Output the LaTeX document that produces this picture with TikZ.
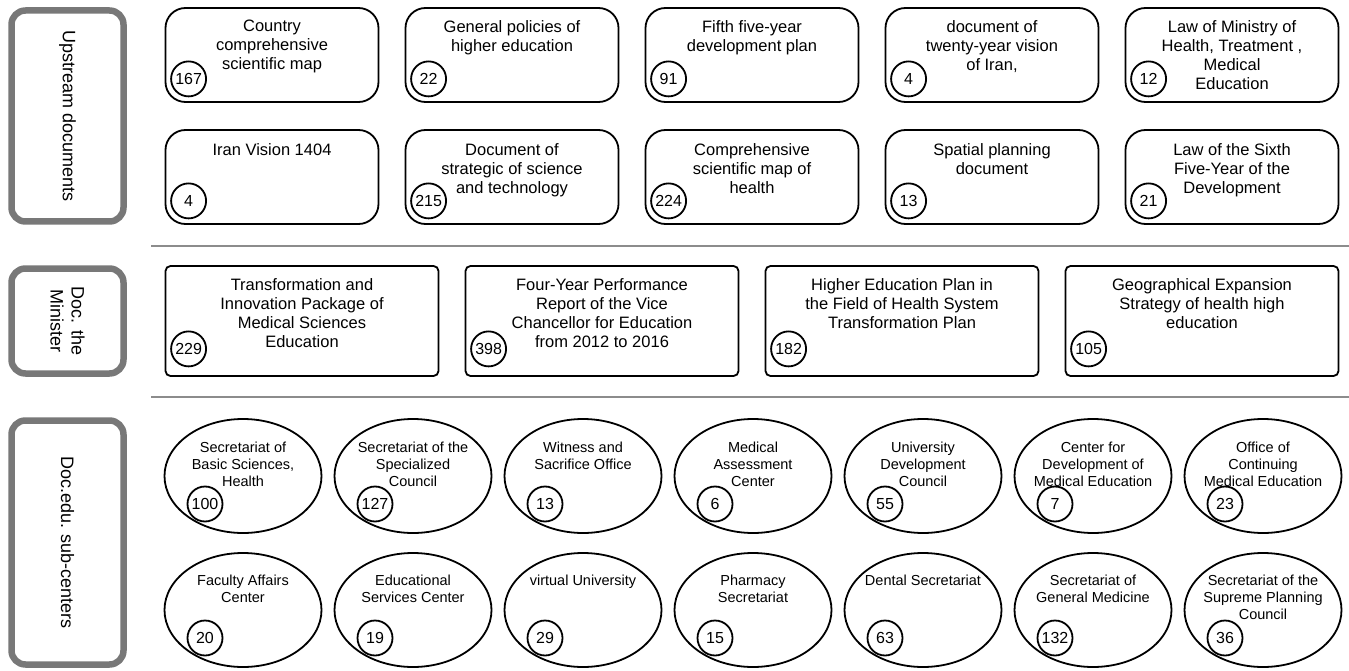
\documentclass[tikz,border=0pt]{standalone}
\usepackage{fontspec}
\setmainfont{Liberation Sans}
\usetikzlibrary{positioning,shapes.geometric}

\begin{document}
\begin{tikzpicture}[x=1pt,y=-1pt,
    grouplabel/.style={draw=black!53,line width=6.5pt,rounded corners=14pt,rotate=-90,align=center,font=\fontsize{18}{21}\selectfont},
    upbox/.style={draw,line width=1.8pt,rounded corners=20pt,minimum width=213pt,minimum height=94pt},
    minbox/.style={draw,line width=1.8pt,rounded corners=5pt,minimum width=273pt,minimum height=110pt},
    subell/.style={draw,ellipse,line width=1.8pt,minimum width=157pt,minimum height=114pt,inner sep=0pt},
    boxtext/.style={anchor=north,align=center,inner sep=0pt,font=\fontsize{16.5}{19}\selectfont},
    elltext/.style={anchor=north,align=center,inner sep=0pt,font=\fontsize{14.5}{17}\selectfont},
    num/.style={draw,circle,line width=1.8pt,minimum size=35pt,inner sep=0pt,font=\fontsize{16}{16}\selectfont},
    sepline/.style={draw=black!45,line width=2.5pt}]
    \useasboundingbox (0,0) rectangle (1349,671);

    % Group labels
    \node[grouplabel,minimum width=211pt,minimum height=112pt] (gup) at (67.5,116) {Upstream documents};
    \node[grouplabel,minimum width=105pt,minimum height=112pt] (gmin) at (67.5,321) {Doc. the\\Minister};
    \node[grouplabel,minimum width=244pt,minimum height=112pt] (gsub) at (67.5,542.5) {Doc.edu. sub-centers};

    % Separators
    \coordinate (s1a) at (151,246);
    \coordinate (s1b) at (1349,246);
    \coordinate (s2a) at (151,397);
    \coordinate (s2b) at (1349,397);
    \draw[sepline] (s1a) -- (s1b);
    \draw[sepline] (s2a) -- (s2b);

    % Upstream documents, first row
    \node[upbox] (u1) at (272,55) {};
    \node[boxtext] (u1t) at ([yshift=-13pt]u1.north) {Country\\comprehensive\\scientific map};
    \node[num] (u1n) at ([xshift=24pt,yshift=24pt]u1.south west) {167};
    \node[upbox] (u2) at (512,55) {};
    \node[boxtext] (u2t) at ([yshift=-13pt]u2.north) {General policies of\\higher education};
    \node[num] (u2n) at ([xshift=24pt,yshift=24pt]u2.south west) {22};
    \node[upbox] (u3) at (752,55) {};
    \node[boxtext] (u3t) at ([yshift=-13pt]u3.north) {Fifth five-year\\development plan};
    \node[num] (u3n) at ([xshift=24pt,yshift=24pt]u3.south west) {91};
    \node[upbox] (u4) at (992,55) {};
    \node[boxtext] (u4t) at ([yshift=-13pt]u4.north) {document of\\twenty-year vision\\of Iran,};
    \node[num] (u4n) at ([xshift=24pt,yshift=24pt]u4.south west) {4};
    \node[upbox] (u5) at (1232,55) {};
    \node[boxtext] (u5t) at ([yshift=-13pt]u5.north) {Law of Ministry of\\Health, Treatment ,\\Medical\\Education};
    \node[num] (u5n) at ([xshift=24pt,yshift=24pt]u5.south west) {12};

    % Upstream documents, second row
    \node[upbox] (u6) at (272,177) {};
    \node[boxtext] (u6t) at ([yshift=-14pt]u6.north) {Iran Vision 1404};
    \node[num] (u6n) at ([xshift=24pt,yshift=24pt]u6.south west) {4};
    \node[upbox] (u7) at (512,177) {};
    \node[boxtext] (u7t) at ([yshift=-14pt]u7.north) {Document of\\strategic of science\\and technology};
    \node[num] (u7n) at ([xshift=24pt,yshift=24pt]u7.south west) {215};
    \node[upbox] (u8) at (752,177) {};
    \node[boxtext] (u8t) at ([yshift=-14pt]u8.north) {Comprehensive\\scientific map of\\health};
    \node[num] (u8n) at ([xshift=24pt,yshift=24pt]u8.south west) {224};
    \node[upbox] (u9) at (992,177) {};
    \node[boxtext] (u9t) at ([yshift=-14pt]u9.north) {Spatial planning\\document};
    \node[num] (u9n) at ([xshift=24pt,yshift=24pt]u9.south west) {13};
    \node[upbox] (u10) at (1232,177) {};
    \node[boxtext] (u10t) at ([yshift=-14pt]u10.north) {Law of the Sixth\\Five-Year of the\\Development};
    \node[num] (u10n) at ([xshift=24pt,yshift=24pt]u10.south west) {21};

    % Documents of the minister
    \node[minbox] (m1) at (302,321) {};
    \node[boxtext] (m1t) at ([yshift=-13pt]m1.north) {Transformation and\\Innovation Package of\\Medical Sciences\\Education};
    \node[num] (m1n) at ([xshift=24pt,yshift=28pt]m1.south west) {229};
    \node[minbox] (m2) at (602,321) {};
    \node[boxtext] (m2t) at ([yshift=-13pt]m2.north) {Four-Year Performance\\Report of the Vice\\Chancellor for Education\\from 2012 to 2016};
    \node[num] (m2n) at ([xshift=24pt,yshift=28pt]m2.south west) {398};
    \node[minbox] (m3) at (902,321) {};
    \node[boxtext] (m3t) at ([yshift=-13pt]m3.north) {Higher Education Plan in\\the Field of Health System\\Transformation Plan};
    \node[num] (m3n) at ([xshift=24pt,yshift=28pt]m3.south west) {182};
    \node[minbox] (m4) at (1202,321) {};
    \node[boxtext] (m4t) at ([yshift=-13pt]m4.north) {Geographical Expansion\\Strategy of health high\\education};
    \node[num] (m4n) at ([xshift=24pt,yshift=28pt]m4.south west) {105};

    % Sub-centers, first row
    \node[subell] (c1) at (243,476) {};
    \node[elltext] (c1t) at ([yshift=34pt]c1.center) {Secretariat of\\Basic Sciences,\\Health};
    \node[num] (c1n) at ([xshift=-38pt,yshift=-28pt]c1.center) {100};
    \node[subell] (c2) at (413,476) {};
    \node[elltext] (c2t) at ([yshift=34pt]c2.center) {Secretariat of the\\Specialized\\Council};
    \node[num] (c2n) at ([xshift=-38pt,yshift=-28pt]c2.center) {127};
    \node[subell] (c3) at (583,476) {};
    \node[elltext] (c3t) at ([yshift=34pt]c3.center) {Witness and\\Sacrifice Office};
    \node[num] (c3n) at ([xshift=-38pt,yshift=-28pt]c3.center) {13};
    \node[subell] (c4) at (753,476) {};
    \node[elltext] (c4t) at ([yshift=34pt]c4.center) {Medical\\Assessment\\Center};
    \node[num] (c4n) at ([xshift=-38pt,yshift=-28pt]c4.center) {6};
    \node[subell] (c5) at (923,476) {};
    \node[elltext] (c5t) at ([yshift=34pt]c5.center) {University\\Development\\Council};
    \node[num] (c5n) at ([xshift=-38pt,yshift=-28pt]c5.center) {55};
    \node[subell] (c6) at (1093,476) {};
    \node[elltext] (c6t) at ([yshift=34pt]c6.center) {Center for\\Development of\\Medical Education};
    \node[num] (c6n) at ([xshift=-38pt,yshift=-28pt]c6.center) {7};
    \node[subell] (c7) at (1263,476) {};
    \node[elltext] (c7t) at ([yshift=34pt]c7.center) {Office of\\Continuing\\Medical Education};
    \node[num] (c7n) at ([xshift=-38pt,yshift=-28pt]c7.center) {23};

    % Sub-centers, second row
    \node[subell] (c8) at (243,610) {};
    \node[elltext] (c8t) at ([yshift=35pt]c8.center) {Faculty Affairs\\Center};
    \node[num] (c8n) at ([xshift=-38pt,yshift=-28pt]c8.center) {20};
    \node[subell] (c9) at (413,610) {};
    \node[elltext] (c9t) at ([yshift=35pt]c9.center) {Educational\\Services Center};
    \node[num] (c9n) at ([xshift=-38pt,yshift=-28pt]c9.center) {19};
    \node[subell] (c10) at (583,610) {};
    \node[elltext] (c10t) at ([yshift=35pt]c10.center) {virtual University};
    \node[num] (c10n) at ([xshift=-38pt,yshift=-28pt]c10.center) {29};
    \node[subell] (c11) at (753,610) {};
    \node[elltext] (c11t) at ([yshift=35pt]c11.center) {Pharmacy\\Secretariat};
    \node[num] (c11n) at ([xshift=-38pt,yshift=-28pt]c11.center) {15};
    \node[subell] (c12) at (923,610) {};
    \node[elltext] (c12t) at ([yshift=35pt]c12.center) {Dental Secretariat};
    \node[num] (c12n) at ([xshift=-38pt,yshift=-28pt]c12.center) {63};
    \node[subell] (c13) at (1093,610) {};
    \node[elltext] (c13t) at ([yshift=35pt]c13.center) {Secretariat of\\General Medicine};
    \node[num] (c13n) at ([xshift=-38pt,yshift=-28pt]c13.center) {132};
    \node[subell] (c14) at (1263,610) {};
    \node[elltext] (c14t) at ([yshift=35pt]c14.center) {Secretariat of the\\Supreme Planning\\Council};
    \node[num] (c14n) at ([xshift=-38pt,yshift=-28pt]c14.center) {36};
\end{tikzpicture}
\end{document}
